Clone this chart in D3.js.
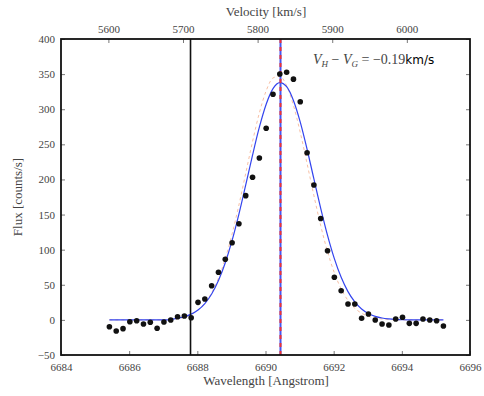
<!DOCTYPE html>
<html><head><meta charset="utf-8">
<script src="https://cdn.jsdelivr.net/npm/d3@7"></script>
<style>
html,body{margin:0;padding:0;background:#fff;}
svg{display:block;}
text{font-family:"Liberation Serif","DejaVu Serif",serif;}
</style></head>
<body>
<svg id="chart" width="484" height="396"></svg>
<script>
// ---- data ----
const wavelengths = d3.range(50).map(i => +(6685.42 + 0.2 * i).toFixed(2));
const fluxData = [-9.7,-15.8,-12.5,-2.6,-1.2,-5.9,-3.4,-12.0,-3.0,-0.2,
  4.5,5.5,3.1,25.0,29.7,48.7,67.8,86.3,109.9,137.0,
  176.9,203.1,230.5,272.8,321.4,350.2,352.6,342.8,310.7,238.1,
  192.1,144.4,98.5,60.7,41.6,22.6,22.6,2.3,8.4,-0.2,
  -5.9,-7.3,1.3,3.7,-4.9,-4.9,1.3,-0.2,-1.2,-8.7];
const modelBlue = [0,0,0,0,0,0,0,0,0,0.5,
  2.4,4.5,8.2,14.1,23.3,36.9,56.0,81.4,113.2,150.7,
  192.2,234.7,274.4,307.1,329.3,338.0,332.1,312.5,281.6,243.0,
  200.7,158.8,120.3,87.2,60.6,40.3,25.7,15.6,9.1,5.1,
  2.7,1.4,0.6,0.2,0,0,0,0,0,0];
const modelOrange = [0,0,0,0,0,0,0,0,0,0.6,
  1.6,3.7,7.9,14.1,23.9,38.6,59.4,87.3,122.4,163.7,
  208.8,254.0,294.8,326.3,344.5,347.0,333.4,305.4,266.9,222.5,
  177.0,134.2,97.1,67.0,44.1,27.7,16.6,9.5,5.2,2.7,
  1.3,0.6,0.2,0,0,0,0,0,0,0];
const xTicks = [6684,6686,6688,6690,6692,6694,6696];
const yTicks = [-50,0,50,100,150,200,250,300,350,400];
const vTicks = [5600,5700,5800,5900,6000];
const restWavelength = 6562.8;
const cLight = 299792.458;
const lineBlack = 6687.8;
const lineCentre = 6690.44;

// ---- layout ----
const L = 61, R = 470, T = 39, B = 355;
const serif = '"Liberation Serif","DejaVu Serif",serif';
const svg = d3.select("#chart");
const x = d3.scaleLinear().domain([6684, 6696]).range([L, R]);
const y = d3.scaleLinear().domain([-50, 400]).range([B, T]);
const vel = w => (w / restWavelength - 1) * cLight;
const xv = d3.scaleLinear().domain([vel(6684), vel(6696)]).range([L, R]);

const tickCol = "#444";
const gB = svg.append("g").attr("transform", `translate(0,${B})`)
  .call(d3.axisBottom(x).tickValues(xTicks).tickFormat(d3.format("d")).tickSizeInner(-4).tickSizeOuter(0).tickPadding(8));
const gT = svg.append("g").attr("transform", `translate(0,${T})`)
  .call(d3.axisTop(xv).tickValues(vTicks).tickFormat(d3.format("d")).tickSizeInner(-4).tickSizeOuter(0).tickPadding(6));
const gL = svg.append("g").attr("transform", `translate(${L},0)`)
  .call(d3.axisLeft(y).tickValues(yTicks).tickFormat(d3.format("d")).tickSizeInner(-4).tickSizeOuter(0).tickPadding(6));
const gR = svg.append("g").attr("transform", `translate(${R},0)`)
  .call(d3.axisRight(y).tickValues(yTicks).tickFormat("").tickSizeInner(-4).tickSizeOuter(0));
[gB, gT, gL, gR].forEach(g => {
  g.attr("font-family", serif);
  g.select(".domain").remove();
  g.selectAll("line").attr("stroke", "#555").attr("stroke-width", 0.8);
  g.selectAll("text").attr("fill", tickCol).attr("font-family", serif).style("font-size", "11px");
});
gB.selectAll("text").attr("dy", "0.71em");

// model curves
const lineGen = (arr) => d3.line().x((d, i) => x(wavelengths[i])).y(d => y(d)).curve(d3.curveMonotoneX)(arr);
svg.append("path").attr("d", lineGen(modelOrange)).attr("fill", "none")
  .attr("stroke", "#f08a5a").attr("stroke-width", 1).attr("stroke-dasharray", "3,3").attr("opacity", 0.55);
svg.append("path").attr("d", lineGen(modelBlue)).attr("fill", "none")
  .attr("stroke", "#3344ee").attr("stroke-width", 1.2);

// vertical lines
svg.append("line").attr("x1", x(lineBlack)).attr("x2", x(lineBlack)).attr("y1", T).attr("y2", B)
  .attr("stroke", "#111").attr("stroke-width", 1.6);
svg.append("line").attr("x1", x(lineCentre)).attr("x2", x(lineCentre)).attr("y1", T).attr("y2", B)
  .attr("stroke", "#4455ee").attr("stroke-width", 2);
svg.append("line").attr("x1", x(lineCentre)).attr("x2", x(lineCentre)).attr("y1", T).attr("y2", B)
  .attr("stroke", "#ee3333").attr("stroke-width", 2).attr("stroke-dasharray", "4,4");

// data points
svg.append("g").selectAll("circle").data(fluxData).join("circle")
  .attr("cx", (d, i) => x(wavelengths[i])).attr("cy", d => y(d)).attr("r", 2.8)
  .attr("fill", "#111");

// frame
svg.append("rect").attr("x", L).attr("y", T).attr("width", R - L).attr("height", B - T)
  .attr("fill", "none").attr("stroke", "#111").attr("stroke-width", 1.8);

// axis labels
svg.append("text").attr("x", 266).attr("y", 385).attr("text-anchor", "middle")
  .attr("fill", "#444").attr("font-family", serif).style("font-size", "13px").text("Wavelength [Angstrom]");
svg.append("text").attr("x", 266).attr("y", 16).attr("text-anchor", "middle")
  .attr("fill", "#444").attr("font-family", serif).style("font-size", "13px").text("Velocity [km/s]");
svg.append("text").attr("transform", `translate(22,${(T + B) / 2}) rotate(-90)`).attr("text-anchor", "middle")
  .attr("fill", "#444").attr("font-family", serif).style("font-size", "13px").text("Flux [counts/s]");

// annotation
const ann = svg.append("text").attr("x", 313).attr("y", 64).attr("fill", "#444")
  .attr("font-family", serif).style("font-size", "14px");
ann.append("tspan").style("font-style", "italic").text("V");
ann.append("tspan").style("font-style", "italic").style("font-size", "9px").attr("dy", 3).text("H");
ann.append("tspan").attr("dy", -3).text(" \u2212 ");
ann.append("tspan").style("font-style", "italic").text("V");
ann.append("tspan").style("font-style", "italic").style("font-size", "9px").attr("dy", 3).text("G");
ann.append("tspan").attr("dy", -3).text(" = \u22120.19");
ann.append("tspan").style("font-family", '"DejaVu Sans",sans-serif').style("font-size", "12px")
  .attr("fill", "#000").text("km/s");
</script>
</body></html>
